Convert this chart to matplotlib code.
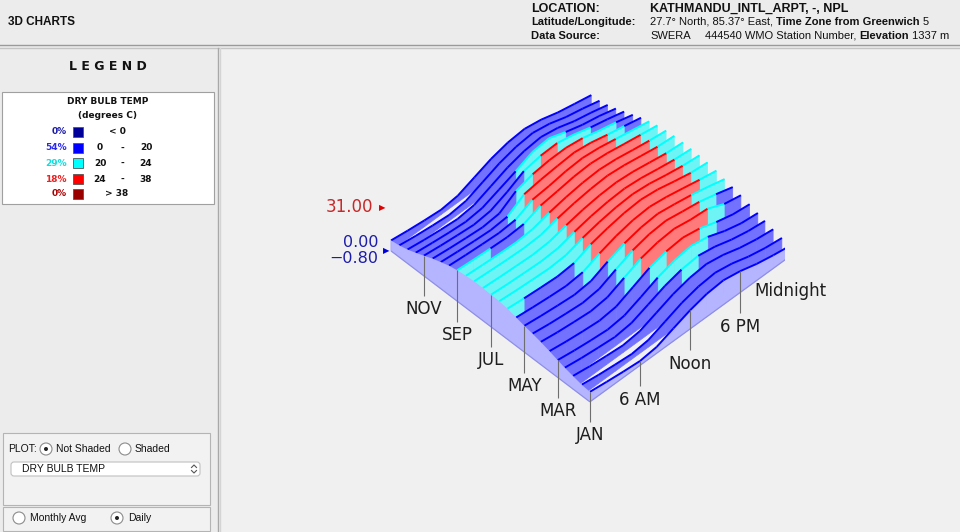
import numpy as np
import matplotlib
matplotlib.use("Agg")
import matplotlib.pyplot as plt
from matplotlib.patches import Rectangle, FancyBboxPatch, Circle
from mpl_toolkits.mplot3d import proj3d
from mpl_toolkits.mplot3d.art3d import Poly3DCollection, Line3DCollection

plt.rcParams['font.family'] = ['DejaVu Sans']

# ---- values: dry bulb temp (deg C), 1st/16th of month x 2-hourly ----
sample_doy = [1, 16, 32, 47, 60, 75, 91, 106, 121, 136, 152, 167, 182,
              197, 213, 228, 244, 259, 274, 289, 305, 320, 335, 350, 365]
sample_hours = [0, 2, 4, 6, 8, 10, 12, 14, 16, 18, 20, 22, 24]
dry_bulb = [
    [6.5, 4.9, 3.5, 2.4, 3.8, 8.4, 12.8, 15.9, 17.0, 14.8, 11.3, 8.8, 6.8],
    [7.2, 5.4, 4.1, 3.0, 4.4, 9.0, 13.7, 16.8, 18.0, 15.8, 12.1, 9.5, 7.9],
    [8.7, 6.9, 5.6, 4.5, 5.9, 10.5, 15.2, 18.3, 19.5, 17.3, 13.6, 11.0, 9.4],
    [10.2, 8.4, 7.1, 6.0, 7.4, 12.0, 16.7, 19.8, 21.0, 18.8, 15.1, 12.5, 11.0],
    [11.8, 10.0, 8.6, 7.5, 8.9, 13.7, 18.9, 22.6, 24.3, 22.0, 17.4, 14.2, 12.8],
    [13.8, 12.0, 10.6, 9.5, 10.9, 16.2, 21.5, 24.6, 25.8, 23.6, 19.4, 16.2, 14.7],
    [15.7, 13.9, 12.6, 11.5, 12.9, 18.2, 23.4, 26.3, 27.4, 25.3, 24.3, 18.9, 16.4],
    [17.2, 15.4, 14.1, 13.0, 14.4, 19.8, 24.8, 27.8, 28.8, 26.7, 24.8, 21.5, 17.8],
    [18.4, 16.8, 15.5, 14.4, 15.7, 21.0, 25.4, 28.2, 29.3, 27.4, 25.2, 22.3, 19.1],
    [19.9, 18.5, 17.3, 16.4, 17.6, 22.4, 26.3, 28.9, 29.8, 28.1, 25.6, 23.0, 20.7],
    [21.5, 20.2, 19.2, 18.4, 19.4, 24.2, 27.1, 29.3, 30.2, 28.7, 25.8, 23.2, 21.9],
    [22.4, 21.3, 20.5, 19.8, 20.6, 24.3, 27.0, 28.9, 29.7, 28.4, 25.9, 23.8, 22.5],
    [22.6, 21.6, 20.9, 20.3, 21.0, 24.2, 26.8, 28.5, 29.2, 28.0, 25.8, 23.8, 22.7],
    [22.9, 22.0, 21.3, 20.7, 21.5, 24.5, 27.0, 28.6, 29.2, 28.1, 26.0, 23.9, 22.9],
    [23.0, 22.1, 21.3, 20.8, 21.4, 24.6, 26.9, 28.5, 29.3, 28.0, 25.9, 23.8, 22.8],
    [22.5, 21.6, 20.8, 20.2, 21.1, 24.3, 26.7, 28.4, 29.1, 27.9, 25.7, 23.7, 22.1],
    [21.7, 20.7, 19.9, 19.3, 20.1, 24.6, 26.2, 28.0, 28.7, 27.4, 25.2, 23.1, 21.1],
    [20.5, 19.4, 18.5, 17.8, 18.7, 24.3, 25.5, 27.4, 28.2, 26.8, 24.4, 22.0, 19.5],
    [18.6, 17.3, 16.2, 15.4, 16.4, 23.8, 25.6, 26.8, 27.7, 26.0, 23.0, 20.4, 17.6],
    [16.6, 15.1, 13.9, 12.9, 14.1, 21.6, 25.0, 26.4, 26.6, 24.8, 21.5, 18.6, 15.2],
    [13.9, 12.3, 11.0, 9.9, 11.2, 16.2, 22.5, 24.8, 25.2, 22.6, 18.9, 16.0, 12.7],
    [11.5, 9.9, 8.5, 7.5, 8.8, 13.3, 17.8, 23.0, 24.2, 19.9, 16.3, 13.8, 10.4],
    [9.3, 7.5, 6.1, 5.0, 6.4, 11.2, 16.0, 19.2, 20.5, 18.3, 14.4, 11.7, 8.5],
    [7.8, 6.0, 4.6, 3.5, 4.9, 9.7, 14.5, 17.7, 19.0, 16.8, 12.9, 10.2, 7.0],
    [6.9, 5.2, 3.8, 2.7, 4.1, 8.7, 13.3, 16.3, 17.4, 15.3, 11.7, 9.1, 6.6],
]

# legend bands
band_edges = [0, 20, 24, 38]
band_colors = ['#000099', '#0000ff', '#00ffff', '#ff0000', '#990000']
band_pale = ['#9c9cd6', '#b4b4ff', '#b4ffff', '#ffb4b4', '#d69c9c']
band_mid = ['#4a4ab8', '#7272ff', '#6ef4f4', '#ff7a7a', '#c06060']
band_pct = ['0%', '54%', '29%', '18%', '0%']
pct_colors = ['#1a1aaa', '#2a2aee', '#10dede', '#ee2020', '#aa0000']
band_ranges = [('< 0',), ('0', '-', '20'), ('20', '-', '24'), ('24', '-', '38'), ('> 38',)]

month_names = ['JAN', 'MAR', 'MAY', 'JUL', 'SEP', 'NOV']
month_doy = [1, 60, 121, 182, 244, 305]
hour_names = ['6 AM', 'Noon', '6 PM', 'Midnight']
hour_marks = [6, 12, 18, 24]

z_top_value = 31.0
z_top_text = '31.00'
z_zero_text = '0.00'
z_base = -0.8
z_base_text = '\u22120.80'

location = 'KATHMANDU_INTL_ARPT, -, NPL'
latlon = [('27.7\u00b0 North, 85.37\u00b0 East,', 'normal', 3),
          ('Time Zone from Greenwich', 'bold', 3), ('5', 'normal', 0)]
source = [('SWERA', 'normal', 14), ('444540 WMO Station Number,', 'normal', 3),
          ('Elevation', 'bold', 3), ('1337 m', 'normal', 0)]

W, H = 960, 532
fig = plt.figure(figsize=(W / 100, H / 100), dpi=100, facecolor='#ececec')
ui = fig.add_axes([0, 0, 1, 1])
ui.set_xlim(0, W)
ui.set_ylim(H, 0)
ui.axis('off')
renderer = fig.canvas.get_renderer()

# ---- window chrome ----
ui.add_patch(Rectangle((219, 48), 741, 484, facecolor='#f0f0f0', edgecolor='none'))
ui.plot([0, W], [44.5, 44.5], color='#9a9a9a', lw=1)
ui.plot([0, W], [47.5, 47.5], color='#c4c4c4', lw=1)
ui.plot([217.5, 217.5], [48, H], color='#a8a8a8', lw=1)
ui.plot([219.5, 219.5], [48, H], color='#d4d4d4', lw=1)

hfont = 'Liberation Sans'
ui.text(8, 22, '3D CHARTS', fontsize=8.5, family=hfont, fontweight='bold', va='center', color='#111')
ui.text(531, 9, 'LOCATION:', fontsize=9, family=hfont, fontweight='bold', va='center', color='#111')
ui.text(650, 9, location, fontsize=9, family=hfont, fontweight='bold', va='center', color='#111')
ui.text(531, 22, 'Latitude/Longitude:', fontsize=8, family=hfont, fontweight='bold', va='center', color='#111')
ui.text(531, 36, 'Data Source:', fontsize=8, family=hfont, fontweight='bold', va='center', color='#111')


def seq_text(x, y, pieces):
    for s, weight, gap in pieces:
        t = ui.text(x, y, s, fontsize=8, family=hfont, fontweight=weight, va='center', color='#111')
        x += t.get_window_extent(renderer=renderer).width + gap


seq_text(650, 22, latlon)
seq_text(650, 36, source)

# ---- legend panel ----
ui.text(108, 66, 'L E G E N D', ha='center', va='center', fontsize=9, fontweight='bold', color='#111')
ui.add_patch(Rectangle((2, 92), 212, 112, facecolor='white', edgecolor='#a0a0a0', lw=0.8))
ui.text(108, 102, 'DRY BULB TEMP', ha='center', va='center', fontsize=6.5, fontweight='bold', color='#111')
ui.text(108, 116, '(degrees C)', ha='center', va='center', fontsize=6.5, fontweight='bold', color='#111')
row_y = [132, 148, 163, 179, 194]
for i, y in enumerate(row_y):
    ui.text(67, y, band_pct[i], ha='right', va='center', fontsize=6.5, fontweight='bold', color=pct_colors[i])
    ui.add_patch(Rectangle((73, y - 5), 10, 10, facecolor=band_colors[i], edgecolor='#555555', lw=0.6))
    r = band_ranges[i]
    if len(r) == 1:
        ui.text(117, y, r[0], ha='center', va='center', fontsize=6.5, fontweight='bold', color='#111')
    else:
        for xx, s in zip([100, 122, 146], r):
            ui.text(xx, y, s, ha='center', va='center', fontsize=6.5, fontweight='bold', color='#111')

# ---- controls ----
ui.add_patch(Rectangle((3, 433), 207, 72, facecolor='#f2f2f2', edgecolor='#b4b4b4', lw=0.8))
ui.add_patch(Rectangle((3, 507), 207, 24, facecolor='#f2f2f2', edgecolor='#b4b4b4', lw=0.8))
cfont = dict(fontsize=7.5, family=hfont, va='center', color='#111')
ui.text(8, 449, 'PLOT:', **cfont)


def radio(x, y, on):
    ui.add_patch(Circle((x, y), 6, facecolor='white', edgecolor='#8c8c8c', lw=0.8))
    if on:
        ui.add_patch(Circle((x, y), 2, facecolor='#222222', edgecolor='none'))


radio(46, 449, True)
ui.text(56, 449, 'Not Shaded', **cfont)
radio(125, 449, False)
ui.text(135, 449, 'Shaded', **cfont)
ui.add_patch(FancyBboxPatch((11, 462), 189, 14, boxstyle='round,pad=0,rounding_size=3',
                            facecolor='white', edgecolor='#c0c0c0', lw=0.8))
ui.text(22, 469, 'DRY BULB TEMP', **cfont)
ui.plot([191.5, 194, 196.5], [467.5, 465, 467.5], color='#555', lw=0.8)
ui.plot([191.5, 194, 196.5], [470.5, 473, 470.5], color='#555', lw=0.8)
radio(19, 518, False)
ui.text(30, 518, 'Monthly Avg', **cfont)
radio(117, 518, True)
ui.text(128, 518, 'Daily', **cfont)

# ---- 3D surface ----
T = np.array(dry_bulb)
hrs = np.array(sample_hours, float)
days = np.array(sample_doy, float) - 1.0
tick_len = 15.0

ax = fig.add_axes([0.3, 0.05, 0.55, 0.55 * W / H], projection='3d', computed_zorder=False)
ax.set_proj_type('ortho')
ax.view_init(elev=48, azim=-134.4)
ax.set_axis_off()
ax.set_facecolor((0, 0, 0, 0))

n = len(days)
for k in range(n):
    i = n - 1 - k          # back rows first
    y = days[i]
    row = T[i]
    bands = np.digitize((row[:-1] + row[1:]) / 2, band_edges)
    quads, segs = [], []
    for j in range(len(hrs) - 1):
        quads.append([(hrs[j], y, z_base), (hrs[j + 1], y, z_base),
                      (hrs[j + 1], y, row[j + 1]), (hrs[j], y, row[j])])
        segs.append([(hrs[j], y, row[j]), (hrs[j + 1], y, row[j + 1])])
    shade = band_pale if i == 0 else band_mid
    fills = [shade[b] for b in bands]
    ax.add_collection3d(Poly3DCollection(quads, facecolors=fills, edgecolors=fills,
                                         linewidths=0.5, zorder=10 + 2 * k), autolim=False)
    ax.add_collection3d(Line3DCollection(segs, colors=[band_colors[b] for b in bands],
                                         linewidths=1.4, zorder=11 + 2 * k), autolim=False)

# midnight-side wall along the day axis
wall = [(0, days[0], z_base)] + [(0, d, t) for d, t in zip(days, T[:, 0])] + [(0, days[-1], z_base)]
ax.add_collection3d(Poly3DCollection([wall], facecolors='#b4b4ff', edgecolors='none', zorder=100),
                    autolim=False)
edges = [[(0, days[0], z_base), (0, days[-1], z_base)], [(0, days[0], z_base), (24, days[0], z_base)]]
ax.add_collection3d(Line3DCollection(edges, colors='#8e8ee6', linewidths=0.9, zorder=101), autolim=False)

# ticks
tick_segs = []
for d in month_doy:
    i = sample_doy.index(d)
    tick_segs.append([(0, d - 1, T[i, 0]), (0, d - 1, z_base - tick_len)])
for h in hour_marks:
    j = sample_hours.index(h)
    tick_segs.append([(h, 0, T[0, j]), (h, 0, z_base - tick_len)])
ax.add_collection3d(Line3DCollection(tick_segs, colors='#6e6e6e', linewidths=0.8, zorder=120), autolim=False)

ax.set_xlim(0, 24)
ax.set_ylim(0, 364)
ax.set_zlim(z_base - tick_len - 2, 32)
ax.set_box_aspect((280, 284, 102))

# fit the box corners onto the reference layout
fig.canvas.draw()


def to_display(pts):
    p = np.array(pts, float)
    xs, ys, _ = proj3d.proj_transform(p[:, 0], p[:, 1], p[:, 2], ax.M)
    return ax.transData.transform(np.column_stack([xs, ys]))


anchors = [(0, 0, z_base), (24, 0, z_base), (0, 364, z_base)]
targets = np.array([[590, H - 402], [790, H - 256], [391, H - 251]], float)
cur = to_display(anchors)
frac = ax.transAxes.inverted().transform(cur)
side = ax.get_position().width * W
scale = np.linalg.norm(targets[1] - targets[2]) / np.linalg.norm(cur[1] - cur[2])
new_side = side * scale
origin = (targets - new_side * frac).mean(axis=0)
ax.set_position([origin[0] / W, origin[1] / H, new_side / W, new_side / H])
fig.canvas.draw()

# axis labels placed at the projected tick ends
to_ui = ui.transData.inverted()


def ui_xy(pt):
    return to_ui.transform(to_display([pt]))[0]


lab = dict(ha='center', va='top', fontsize=12, color='#1e1e1e')
for name, d in zip(month_names, month_doy):
    x, y = ui_xy((0, d - 1, z_base - tick_len))
    ui.text(x, y + 4, name, **lab)
for name, h in zip(hour_names, hour_marks):
    x, y = ui_xy((h, 0, z_base - tick_len))
    ui.text(x, y + 5, name, **lab)

x, y = ui_xy((0, days[-1], z_top_value))
ui.text(x - 18, y, z_top_text, ha='right', va='center', fontsize=12, color='#c82828')
ui.text(x - 9, y, '\u25b6', ha='center', va='center', fontsize=6, color='#e00000')
x, y = ui_xy((0, days[-1], z_base))
ui.text(x - 13, y - 8, z_zero_text, ha='right', va='center', fontsize=11.5, color='#1c1caa')
ui.text(x - 13, y + 7.5, z_base_text, ha='right', va='center', fontsize=11.5, color='#1c1caa')
ui.text(x - 5, y, '\u25b6', ha='center', va='center', fontsize=6, color='#0000dd')

fig.savefig('out.png', dpi=100, facecolor=fig.get_facecolor())
